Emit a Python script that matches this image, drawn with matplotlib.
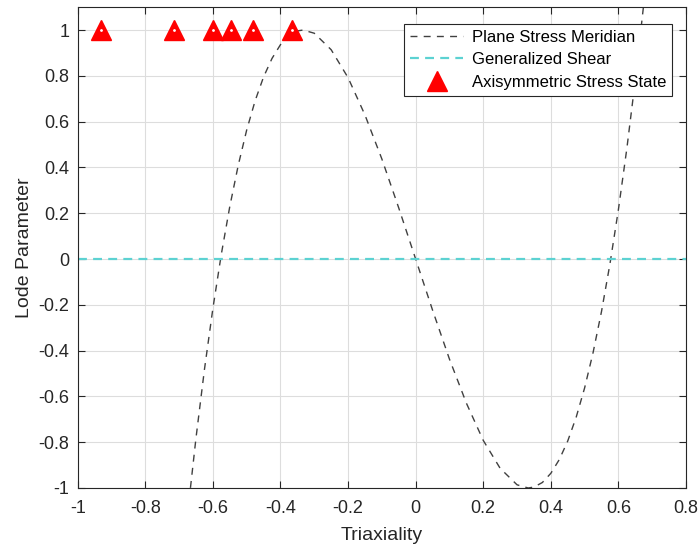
import matplotlib
matplotlib.use('Agg')
import matplotlib.pyplot as plt

plt.rcParams['font.family'] = ['Liberation Sans', 'DejaVu Sans']

# plane stress meridian
triax = [-0.675, -0.65, -0.625, -0.6, -0.575, -0.55, -0.525, -0.5, -0.475,
         -0.45, -0.425, -0.4, -0.375, -0.35, -0.333, -0.3, -0.25, -0.2, -0.15,
         -0.1, -0.05, 0.0, 0.05, 0.1, 0.15, 0.2, 0.25, 0.3, 0.333, 0.35, 0.375,
         0.4, 0.425, 0.45, 0.475, 0.5, 0.525, 0.55, 0.575, 0.6, 0.625, 0.65, 0.675]
lode = [-1.114, -0.782, -0.483, -0.216, 0.021, 0.229, 0.409, 0.563, 0.691,
        0.795, 0.876, 0.936, 0.976, 0.996, 1.0, 0.986, 0.914, 0.792, 0.629,
        0.437, 0.223, 0.0, -0.223, -0.437, -0.629, -0.792, -0.914, -0.986, -1.0, -0.996, -0.976,
        -0.936, -0.876, -0.795, -0.691, -0.563, -0.409, -0.229, -0.021, 0.216, 0.483, 0.782, 1.114]

# generalized shear line
shear_x = [-1.0, 0.8]
shear_y = [0.0, 0.0]

# axisymmetric points
axi_x = [-0.93, -0.714, -0.6, -0.545, -0.481, -0.367]
axi_y = [1, 1, 1, 1, 1, 1]

fig = plt.figure(figsize=(7, 5.48), dpi=100)
ax = fig.add_axes([0.111, 0.1095, 0.869, 0.8775])

l1, = ax.plot(triax, lode, '--', color='#404040', lw=1.0, dashes=(5, 4.5))
l2, = ax.plot(shear_x, shear_y, '--', color='#5CD2D2', lw=1.6, dashes=(4, 2.8))
l3, = ax.plot(axi_x, axi_y, '^', color='red', markersize=15, mec='red', ls='none')
ax.plot(axi_x, axi_y, '.', color='white', markersize=2, ls='none')

ax.set_xlim(-1, 0.8)
ax.set_ylim(-1, 1.1)
ax.set_xticks([-1, -0.8, -0.6, -0.4, -0.2, 0, 0.2, 0.4, 0.6, 0.8])
ax.set_xticklabels(['-1', '-0.8', '-0.6', '-0.4', '-0.2', '0', '0.2', '0.4', '0.6', '0.8'])
ax.set_yticks([-1, -0.8, -0.6, -0.4, -0.2, 0, 0.2, 0.4, 0.6, 0.8, 1])
ax.set_yticklabels(['-1', '-0.8', '-0.6', '-0.4', '-0.2', '0', '0.2', '0.4', '0.6', '0.8', '1'])

ax.grid(True, color='#dddddd', lw=0.8)
ax.set_axisbelow(True)
ax.tick_params(direction='in', top=True, right=True, labelsize=13, colors='#262626', length=5)
ax.tick_params(axis='x', pad=9)
ax.tick_params(axis='y', pad=6)
for s in ax.spines.values():
    s.set_color('#262626')
    s.set_linewidth(0.8)

ax.set_xlabel('Triaxiality', fontsize=14, color='#262626', labelpad=7)
ax.set_ylabel('Lode Parameter', fontsize=14, color='#262626', labelpad=4)

leg = ax.legend([l1, l2, l3], ['Plane Stress Meridian', 'Generalized Shear', 'Axisymmetric Stress State'],
                loc='upper right', bbox_to_anchor=(0.977, 0.965), borderaxespad=0,
                fontsize=12, fancybox=False, framealpha=1,
                edgecolor='#262626', handlelength=3.2, markerscale=1.0,
                labelspacing=0.45, borderpad=0.35, handletextpad=0.5)
leg.get_frame().set_linewidth(0.8)

fig.savefig('out.png')
